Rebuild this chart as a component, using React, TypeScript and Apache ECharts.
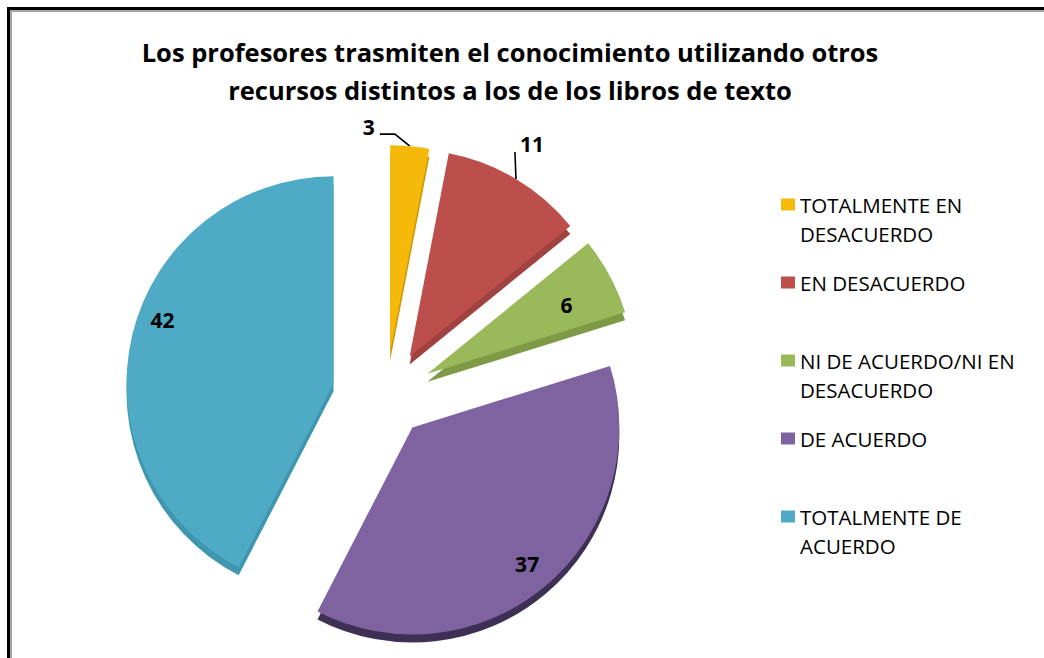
import { useEffect, useRef } from 'react';
import * as echarts from 'echarts';

// ---- data ----
const TITLE_LINES = [
  'Los profesores trasmiten el conocimiento utilizando otros',
  'recursos distintos a los de los libros de texto',
];
const categories = [
  'TOTALMENTE EN DESACUERDO',
  'EN DESACUERDO',
  'NI DE ACUERDO/NI EN DESACUERDO',
  'DE ACUERDO',
  'TOTALMENTE DE ACUERDO',
];
const legendLabels = [
  'TOTALMENTE EN\nDESACUERDO',
  'EN DESACUERDO',
  'NI DE ACUERDO/NI EN\nDESACUERDO',
  'DE ACUERDO',
  'TOTALMENTE DE\nACUERDO',
];
const values = [3, 11, 6, 37, 42];

// ---- styles ----
const faceColors = ['#F4B909', '#BC4F4C', '#9AB95A', '#7F63A1', '#4FABC5'];
const sideColors = ['#C99806', '#A04340', '#7E9A47', '#3E3054', '#3E97AE'];
const explode = [44, 46, 47, 41, 54];
const labelMode = ['outsideLeft', 'outsideUp', 'inside', 'inside', 'inside'];
const labelRatio = [0, 0, 0.74, 0.84, 0.88];
const labelShift = [
  [0, 0],
  [0, 0],
  [4, 4],
  [3, 3],
  [6, -20],
];
const FONT = 'Open Sans';
const PIE_CX = 386;
const PIE_CY = 396;
const R = 207;
const DEPTH = 8;

const total = values.reduce((a, b) => a + b, 0);
const mids: number[] = [];
{
  let acc = 0;
  values.forEach((v) => {
    mids.push(((acc + v / 2) / total) * 2 * Math.PI);
    acc += v;
  });
}
const centers = mids.map((m, i) => [
  PIE_CX + explode[i] * Math.sin(m),
  PIE_CY - explode[i] * Math.cos(m),
]);

function layoutLabel(i: number, p: any) {
  if (p.dataIndex !== i) return {};
  const m = mids[i];
  const [cx, cy] = centers[i];
  const sx = Math.sin(m);
  const sy = -Math.cos(m);
  if (labelMode[i] === 'inside') {
    return {
      x: cx + labelRatio[i] * R * sx + labelShift[i][0],
      y: cy + labelRatio[i] * R * sy + labelShift[i][1],
      align: 'center',
      verticalAlign: 'middle',
    };
  }
  const px = cx + R * sx;
  const py = cy + R * sy;
  if (labelMode[i] === 'outsideUp') {
    return {
      x: px + 4,
      y: py - 35,
      align: 'left',
      verticalAlign: 'middle',
      labelLinePoints: [
        [px, py],
        [px - 1, py - 27],
        [px - 1, py - 27],
      ],
    };
  }
  return {
    x: px - 35,
    y: py - 19,
    align: 'right',
    verticalAlign: 'middle',
    labelLinePoints: [
      [px, py],
      [px - 15, py - 12],
      [px - 30, py - 12],
    ],
  };
}

function sliceSeries(i: number, kind: 'side' | 'face') {
  const [cx, cy0] = centers[i];
  const cy = kind === 'side' ? cy0 + DEPTH : cy0;
  const isFace = kind === 'face';
  const outside = labelMode[i] !== 'inside';
  return {
    type: 'pie',
    name: kind + i,
    center: [cx, cy],
    radius: R,
    startAngle: 90,
    clockwise: true,
    avoidLabelOverlap: false,
    silent: true,
    z: isFace ? 3 : 2,
    emphasis: { disabled: true },
    label: { show: false },
    labelLine: { show: false },
    labelLayout: isFace ? (p: any) => layoutLabel(i, p) : undefined,
    data: values.map((v, j) => ({
      value: v,
      name: categories[j],
      itemStyle: {
        color: j === i ? (isFace ? faceColors[j] : sideColors[j]) : 'rgba(0,0,0,0)',
        borderWidth: 0,
      },
      label: {
        show: isFace && j === i,
        position: outside ? 'outside' : 'inside',
        formatter: '{c}',
        fontFamily: FONT,
        fontSize: 21,
        fontWeight: 'bold',
        color: '#000',
      },
      labelLine: {
        show: isFace && j === i && outside,
        length: 10,
        length2: 10,
        smooth: false,
        lineStyle: { color: '#000', width: 1.6 },
      },
    })),
  };
}

const option: any = {
  animation: false,
  backgroundColor: '#ffffff',
  title: {
    text: TITLE_LINES.join('\n'),
    left: 510,
    top: 33,
    textAlign: 'center',
    padding: 0,
    textStyle: {
      fontFamily: FONT,
      fontWeight: 'bold',
      fontSize: 25.5,
      lineHeight: 38,
      color: '#000',
    },
  },
  legend: {
    orient: 'vertical',
    left: 781,
    top: 161,
    padding: 0,
    itemWidth: 14,
    itemHeight: 12,
    itemGap: -9,
    icon: 'rect',
    selectedMode: false,
    data: categories.map((n, i) => ({ name: n, itemStyle: { color: faceColors[i] } })),
    formatter: (name: string) => {
      const lbl = legendLabels[categories.indexOf(name)];
      return '\n' + lbl + (lbl.indexOf('\n') < 0 ? '\n' : '');
    },
    textStyle: { fontFamily: FONT, fontSize: 20.5, lineHeight: 29, color: '#000' },
  },
  graphic: [
    { type: 'rect', silent: true, shape: { x: 7, y: 7, width: 3, height: 651 }, style: { fill: '#000' } },
    { type: 'rect', silent: true, shape: { x: 7, y: 7, width: 1037, height: 3 }, style: { fill: '#000' } },
    { type: 'rect', silent: true, shape: { x: 10, y: 10, width: 2, height: 648 }, style: { fill: '#A6A6A6' } },
    { type: 'rect', silent: true, shape: { x: 10, y: 10, width: 1034, height: 2 }, style: { fill: '#A6A6A6' } },
  ],
  series: [
    ...values.map((_, i) => sliceSeries(i, 'side')),
    ...values.map((_, i) => sliceSeries(i, 'face')),
  ],
};

export default function App() {
  const ref = useRef<HTMLDivElement>(null);
  useEffect(() => {
    const chart = echarts.init(ref.current!, null, { renderer: 'svg' });
    chart.setOption(option);
    return () => chart.dispose();
  }, []);
  return (
    <div
      ref={ref}
      style={{ position: 'fixed', left: 0, top: 0, width: 1044, height: 658, background: '#fff' }}
    />
  );
}
